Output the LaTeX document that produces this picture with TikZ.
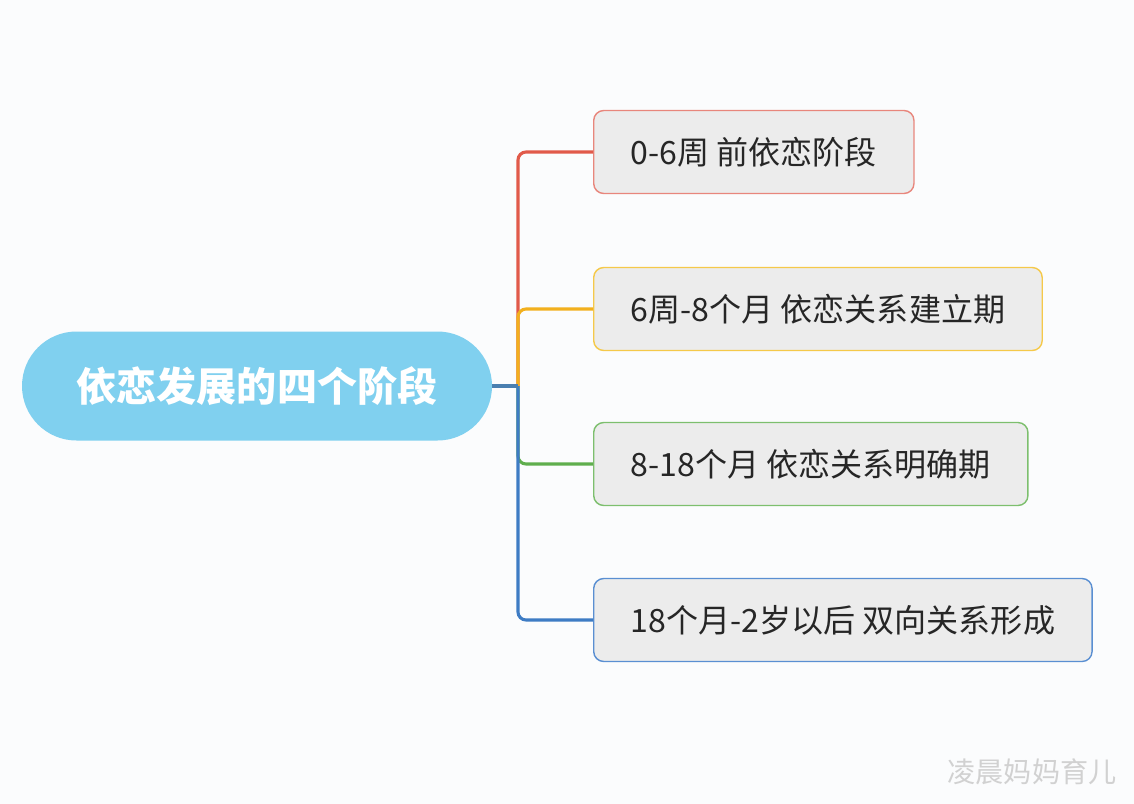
\documentclass[tikz,border=0pt]{standalone}
\usepackage{fontspec}
\setmainfont{Noto Sans CJK SC}
\usetikzlibrary{positioning}

\definecolor{hubblue}{HTML}{80D0EF}
\definecolor{boxgray}{HTML}{ECECEC}
\definecolor{redline}{HTML}{E15A4A}
\definecolor{rededge}{HTML}{E8867C}
\definecolor{yelline}{HTML}{F2B01E}
\definecolor{yeledge}{HTML}{F5C94A}
\definecolor{grnline}{HTML}{5FAE4D}
\definecolor{grnedge}{HTML}{7DBF6E}
\definecolor{bluline}{HTML}{3E7CC4}
\definecolor{bluedge}{HTML}{5A8FD2}
\definecolor{stemline}{HTML}{4A7FB0}
\definecolor{paper}{HTML}{FBFCFD}

\begin{document}
\begin{tikzpicture}[x=0.025cm,y=-0.025cm]
 \tikzset{main node/.style={rectangle, fill=hubblue, rounded corners=54.5*0.025cm,
 		minimum width=470*0.025cm, minimum height=109*0.025cm,
 		text=white, font=\fontsize{28.5}{30}\selectfont\bfseries, text centered}, }
 \tikzset{stage node/.style={rectangle, draw=#1, fill=boxgray, line width=1pt,
 		rounded corners=10*0.025cm, minimum height=83*0.025cm,
 		inner xsep=37*0.025cm, anchor=west, text=black!85,
 		font=\fontsize{22.8}{24}\selectfont}, }
 \tikzset{linea/.style={line width=2.2pt, rounded corners=8*0.025cm, draw=#1},}
 \useasboundingbox[fill=paper] (0,0) rectangle (1134,804);
 \node[main node] (c) at (257,386) {依恋发展的四个阶段};
 \coordinate (hub) at (518,386);
 \node[stage node=rededge] (1) at (593,152) {0-6周 前依恋阶段};
 \node[stage node=yeledge] (2) at (593,309) {6周-8个月 依恋关系建立期};
 \node[stage node=grnedge] (3) at (593,464) {8-18个月 依恋关系明确期};
 \node[stage node=bluedge] (4) at (593,620) {18个月-2岁以后 双向关系形成};
 \foreach \x /\y in{1/redline,2/yelline,3/grnline,4/bluline}
 \path[linea=\y] (hub) |- (\x.west);
 \draw[linea=stemline] (c.east) -- (hub);
 %%
 \node[text=black!18, font=\fontsize{20}{22}\selectfont] (mark) at (1032,772) {凌晨妈妈育儿};
\end{tikzpicture}
\end{document}
